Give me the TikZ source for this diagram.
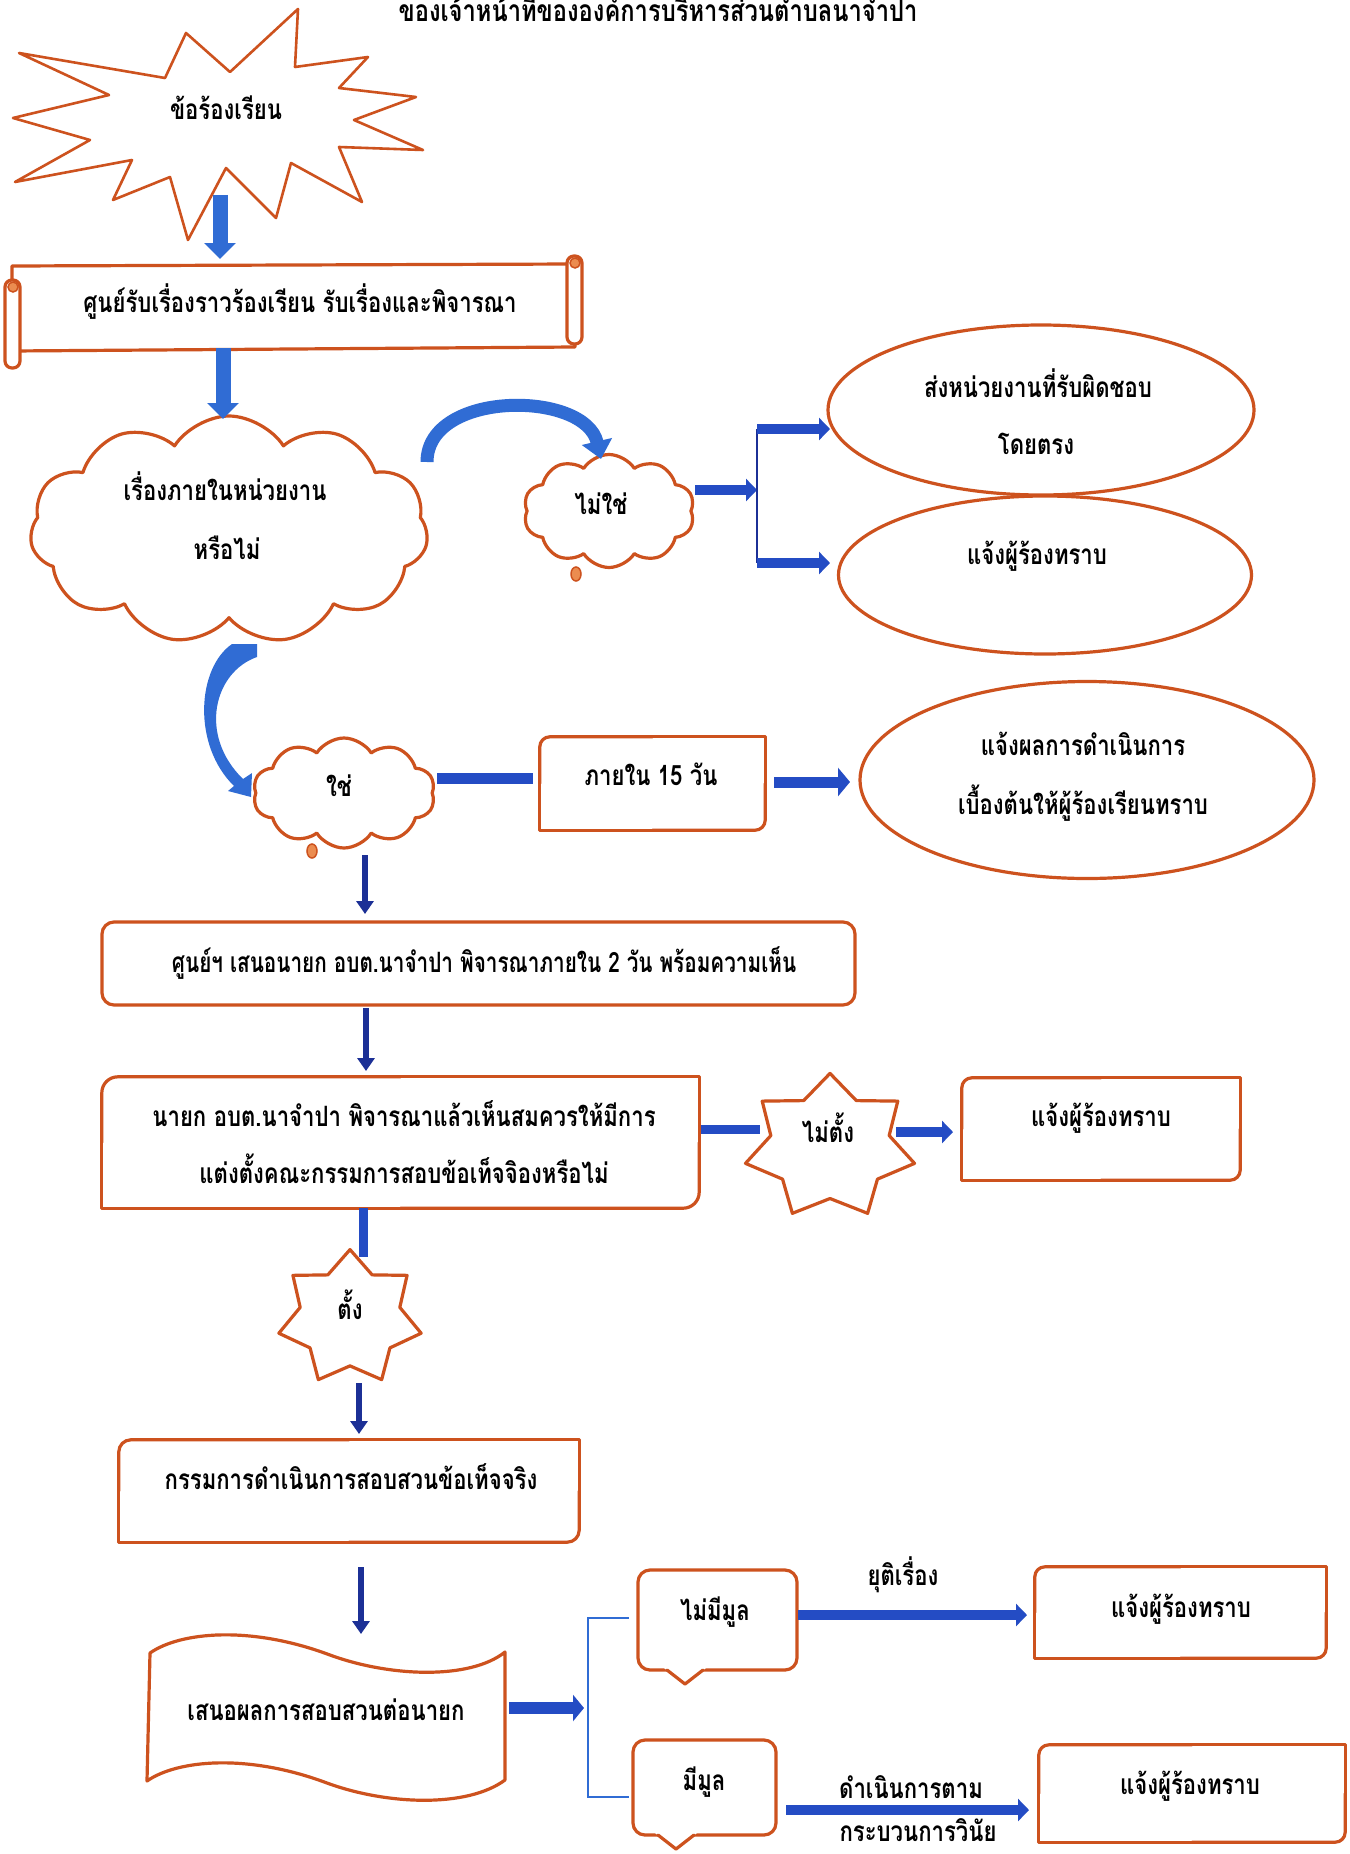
\documentclass[tikz,border=0pt]{standalone}
\usepackage{fontspec}
\setmainfont[Script=Thai,FakeStretch=0.79]{Loma}
\newfontfamily\thaiN[Script=Thai,FakeStretch=0.74]{Loma}
\usetikzlibrary{shapes.symbols,shapes.geometric,arrows.meta,calc}
\definecolor{ored}{RGB}{205,82,30}
\definecolor{lblue}{RGB}{48,108,212}
\definecolor{ablue}{RGB}{36,76,196}
\definecolor{dblue}{RGB}{28,48,150}
\definecolor{bubble}{RGB}{235,140,80}
\tikzset{
 outl/.style={draw=ored, line width=3.2pt, line join=round, line cap=round},
 txt/.style={font=\bfseries\fontsize{28pt}{32pt}\selectfont, inner sep=0pt, text height=14pt, text depth=0pt},
 barrowl/.style={lblue, line width=15pt, -{Triangle[width=31pt,length=16pt]}},
 barrow/.style={ablue, line width=10pt, -{Triangle[width=22pt,length=11pt]}},
 tarrow/.style={dblue, line width=6pt, -{Triangle[width=17pt,length=13pt]}},
 bar/.style={ablue, line width=10pt},
 thinl/.style={dblue, line width=2.5pt},
 cloudbox/.style={cloud, cloud ignores aspect, outl, fill=white, inner sep=0pt},
 boxn/.style={inner sep=0pt},
}
\newcommand\rdiag[2]{%
  \draw[outl,rounded corners=#2] (#1.west) -- (#1.north west) -- (#1.north);
  \draw[outl] (#1.north) -- (#1.north east) -- (#1.east);
  \draw[outl,rounded corners=#2] (#1.east) -- (#1.south east) -- (#1.south);
  \draw[outl] (#1.south) -- (#1.south west) -- (#1.west);}
\newcommand\sevenstar[4]{%
  \begin{scope}[shift={(#1,#2)},xscale=#3,yscale=-#4]
  \draw[outl,fill=white] (90:1) \foreach \i in {1,...,13}{ -- ({90+\i*360/14}:{ifthenelse(mod(\i,2)==0,1,0.7)})} -- cycle;
  \end{scope}}
\begin{document}
\begin{tikzpicture}[x=1pt,y=-1pt]
\useasboundingbox (0,0) rectangle (1349,1854);
\fill[white] (0,0) rectangle (1349,1854);

% title
\node[txt, font=\bfseries\fontsize{30pt}{34pt}\selectfont] (title) at (658,15) {ของเจ้าหน้าที่ขององค์การบริหารส่วนตำบลนาจำปา};

% explosion
\draw[outl, line width=2.6pt, fill=white] (298,9) -- (295,67) -- (368,57) -- (339,88) -- (416,97) -- (354,120) -- (423,150) -- (339,147) -- (362,202) -- (291,163) -- (276,218) -- (226,168) -- (188,240) -- (170,177) -- (113,200) -- (132,160) -- (15,182) -- (90,140) -- (13,118) -- (109,95) -- (19,53) -- (165,78) -- (186,33) -- (230,72) -- cycle;
\node[txt] (s1) at (226,113) {ข้อร้องเรียน};

% scroll
\draw[outl, fill=white] (12,266) -- (575,264) -- (575,347) -- (12,351) -- cycle;
\draw[outl, fill=white, rounded corners=7pt] (567,256) rectangle (582,344);
\draw[outl, fill=white, rounded corners=7pt] (5,280) rectangle (20,368);
\draw[ored, line width=1.5pt, fill=bubble] (575,263) circle[radius=5];
\draw[ored, line width=1.5pt, fill=bubble] (13,287) circle[radius=5];
\node[txt] (scroll) at (300,305) {ศูนย์รับเรื่องราวร้องเรียน รับเรื่องและพิจารณา};

% clouds
\node[cloudbox, cloud puffs=11, cloud puff arc=115, minimum width=398pt, minimum height=228pt] (c1) at (229,530) {};
\node[txt] (c1a) at (225,493) {เรื่องภายในหน่วยงาน};
\node[txt] (c1b) at (227,552) {หรือไม่};

\node[cloudbox, cloud puffs=10, cloud puff arc=115, minimum width=171pt, minimum height=113pt] (c2) at (609,511) {};
\draw[ored, line width=1.5pt, fill=bubble] (576,574) ellipse[x radius=5, y radius=7];
\node[txt] (c2t) at (601,507) {ไม่ใช่};

\node[cloudbox, cloud puffs=10, cloud puff arc=115, minimum width=182pt, minimum height=110pt] (c3) at (344,793) {};
\draw[ored, line width=1.5pt, fill=bubble] (312,851) ellipse[x radius=5, y radius=7];
\node[txt] (c3t) at (339,789) {ใช่};

% ellipses
\node[ellipse, outl, minimum width=426pt, minimum height=170pt] (e1) at (1041,410) {};
\node[txt] (e1a) at (1038,390) {ส่งหน่วยงานที่รับผิดชอบ};
\node[txt] (e1b) at (1036,447) {โดยตรง};
\node[ellipse, outl, minimum width=413pt, minimum height=158pt] (e2) at (1045,575) {};
\node[txt] (e2t) at (1037,557) {แจ้งผู้ร้องทราบ};
\node[ellipse, outl, minimum width=454pt, minimum height=197pt] (e3) at (1087,780) {};
\node[txt] (e3a) at (1083,748) {แจ้งผลการดำเนินการ};
\node[txt] (e3b) at (1083,807) {เบื้องต้นให้ผู้ร้องเรียนทราบ};

% boxes
\node[boxn, minimum width=225pt, minimum height=93pt] (b0) at (652.5,783.5) {};
\rdiag{b0}{10pt}
\node[txt] (b0t) at (651,778) {ภายใน 15 วัน};

\node[boxn, outl, rounded corners=12pt, minimum width=753pt, minimum height=83pt] (b1) at (478.5,963.5) {};
\node[txt, font=\thaiN\bfseries\fontsize{28pt}{32pt}\selectfont] (b1t) at (484,965) {ศูนย์ฯ เสนอนายก อบต.นาจำปา พิจารณาภายใน 2 วัน พร้อมความเห็น};

\node[boxn, minimum width=597pt, minimum height=131pt] (b2) at (400.5,1142.5) {};
\rdiag{b2}{16pt}
\node[txt] (b2a) at (404,1119) {นายก อบต.นาจำปา พิจารณาแล้วเห็นสมควรให้มีการ};
\node[txt] (b2b) at (404,1176) {แต่งตั้งคณะกรรมการสอบข้อเท็จจิองหรือไม่};

\node[boxn, minimum width=278pt, minimum height=102pt] (b3) at (1101,1129) {};
\rdiag{b3}{10pt}
\node[txt] (b3t) at (1101,1119) {แจ้งผู้ร้องทราบ};

\node[boxn, minimum width=460pt, minimum height=102pt] (b4) at (349,1491) {};
\rdiag{b4}{12pt}
\node[txt] (b4t) at (351,1482) {กรรมการดำเนินการสอบสวนข้อเท็จจริง};

\node[boxn, minimum width=291pt, minimum height=91pt] (b5) at (1180.5,1612.5) {};
\rdiag{b5}{10pt}
\node[txt] (b5t) at (1181,1610) {แจ้งผู้ร้องทราบ};

\node[boxn, minimum width=306pt, minimum height=97pt] (b6) at (1192,1793.5) {};
\rdiag{b6}{10pt}
\node[txt] (b6t) at (1190,1787) {แจ้งผู้ร้องทราบ};

% stars
\sevenstar{830}{1147}{86.7}{73.6}
\node[txt] (st1) at (828,1135) {ไม่ตั้ง};
\sevenstar{350}{1318}{73}{68.4}
\node[txt] (st2) at (350,1312) {ตั้ง};

% wave
\draw[outl, fill=white] (150,1653) .. controls (180,1632) and (250,1625) .. (330,1655) .. controls (390,1677) and (470,1680) .. (505,1652) -- (505,1780) .. controls (467,1808) and (387,1805) .. (327,1783) .. controls (247,1753) and (177,1760) .. (147,1781) -- cycle;
\node[txt] (w) at (326,1713) {เสนอผลการสอบสวนต่อนายก};

% callouts
\node[boxn, outl, rounded corners=12pt, minimum width=159pt, minimum height=100pt] (k1) at (717.5,1620) {};
\fill[white] (664,1668) -- (706,1668) -- (685,1685) -- cycle;
\draw[outl] (667,1670) -- (685,1684) -- (703,1670);
\node[txt] (k1t) at (715,1613) {ไม่มีมูล};
\node[boxn, outl, rounded corners=12pt, minimum width=143pt, minimum height=95pt] (k2) at (704.5,1787.5) {};
\fill[white] (655,1833) -- (697,1833) -- (676,1850) -- cycle;
\draw[outl] (658,1835) -- (676,1849) -- (694,1835);
\node[txt] (k2t) at (704,1783) {มีมูล};

% labels
\node[txt] (l1) at (903,1578) {ยุติเรื่อง};
\node[txt] (l2) at (911,1791) {ดำเนินการตาม};
\node[txt] (l3) at (918,1834) {กระบวนการวินัย};

% connector coordinates
\coordinate (a1s) at (220,195); \coordinate (a1e) at (220,259);
\coordinate (a2s) at (223,348); \coordinate (a2e) at (223,419);
\coordinate (a3s) at (427,462); \coordinate (a3e) at (601,459);
\coordinate (a4s) at (695,490); \coordinate (br1) at (757,490);
\coordinate (br1t) at (757,429); \coordinate (br1b) at (757,563);
\coordinate (a5e) at (830,429); \coordinate (a6e) at (830,563);
\coordinate (bar1s) at (437,778); \coordinate (bar1e) at (533,778);
\coordinate (a8s) at (774,782); \coordinate (a8e) at (850,782);
\coordinate (a9s) at (365,855); \coordinate (a9e) at (365,914);
\coordinate (a10s) at (366,1008); \coordinate (a10e) at (366,1071);
\coordinate (bar2s) at (701,1129); \coordinate (bar2e) at (760,1129);
\coordinate (a11s) at (896,1132); \coordinate (a11e) at (953,1132);
\coordinate (bar3s) at (363,1208); \coordinate (bar3e) at (363,1257);
\coordinate (a12s) at (359,1383); \coordinate (a12e) at (359,1434);
\coordinate (a13s) at (361,1567); \coordinate (a13e) at (361,1634);
\coordinate (a14s) at (509,1708); \coordinate (a14e) at (584,1708);
\coordinate (br2t) at (629,1618); \coordinate (br2b) at (629,1797);
\coordinate (a15s) at (798,1615); \coordinate (a15e) at (1027,1615);
\coordinate (a16s) at (786,1810); \coordinate (a16e) at (1029,1810);

% connectors
\draw[barrowl] (a1s) -- (a1e);
\draw[barrowl] (a2s) -- (a2e);
\draw[lblue, line width=13pt, -{Triangle[width=30pt,length=18pt]}] (a3s) .. controls (427,390) and (585,390) .. (a3e);
\draw[barrow] (a4s) -- (br1);
\draw[thinl] (br1t) -- (br1b);
\draw[barrow] (br1t) -- (a5e);
\draw[barrow] (br1b) -- (a6e);
\fill[lblue] (232,644) -- (257,644) -- (257,657) .. controls (214,672) and (198,735) .. (243,779) -- (252,773) -- (251,797) -- (228,791) -- (234,786) .. controls (192,745) and (197,668) .. (232,644) -- cycle;
\draw[bar, line width=11pt] (bar1s) -- (bar1e);
\draw[barrow, line width=11pt, -{Triangle[width=28pt,length=12pt]}] (a8s) -- (a8e);
\draw[tarrow] (a9s) -- (a9e);
\draw[tarrow] (a10s) -- (a10e);
\draw[bar, line width=9pt] (bar2s) -- (bar2e);
\draw[barrow] (a11s) -- (a11e);
\draw[bar, line width=9pt] (bar3s) -- (bar3e);
\draw[tarrow] (a12s) -- (a12e);
\draw[tarrow] (a13s) -- (a13e);
\draw[barrow, line width=12pt, -{Triangle[width=26pt,length=11pt]}] (a14s) -- (a14e);
\draw[thinl, lblue] (br2t) -- (588,1618) -- (588,1797) -- (br2b);
\draw[barrow] (a15s) -- (a15e);
\draw[barrow] (a16s) -- (a16e);
\end{tikzpicture}
\end{document}
